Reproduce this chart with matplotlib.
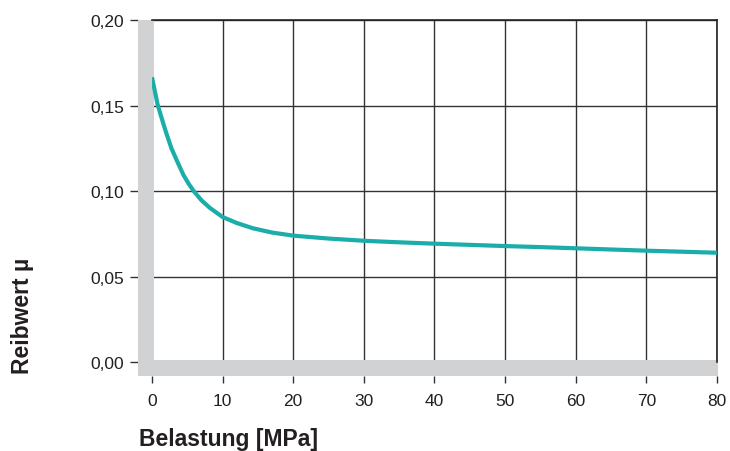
import matplotlib
matplotlib.use("Agg")
import matplotlib.pyplot as plt
from matplotlib.patches import Rectangle

# Werte
belastung = [0, 0.8, 1.5, 2.0, 2.75, 3.5, 4.45, 5.2, 5.9, 7.0, 8.2, 10, 12,
             14.3, 17, 20, 25, 30, 35, 40, 45, 50, 55, 60, 65, 70, 75, 80]
reibwert = [0.1665, 0.1505, 0.1408, 0.1342, 0.1250, 0.1180, 0.1094, 0.1042,
            0.1000, 0.0946, 0.0901, 0.0848, 0.0813, 0.0782, 0.0757, 0.0739,
            0.0722, 0.0709, 0.0700, 0.0692, 0.0685, 0.0678, 0.0672, 0.0665,
            0.0658, 0.0651, 0.0645, 0.0639]
x_ticks = [0, 10, 20, 30, 40, 50, 60, 70, 80]
y_ticks = [0.00, 0.05, 0.10, 0.15, 0.20]
y_labels = ["0,00", "0,05", "0,10", "0,15", "0,20"]

plt.rcParams["font.family"] = ["Liberation Sans", "DejaVu Sans"]

GRAU = "#d1d2d4"
TEXT = "#231f20"

fig = plt.figure(figsize=(7.3, 4.52), dpi=100)
ax = fig.add_axes([0.2082, 0.1969, 0.7740, 0.7566])

ax.plot(belastung, reibwert, color="#1aadaa", lw=3.0, solid_capstyle="butt",
        solid_joinstyle="round", zorder=3)

ax.set_xlim(0, 80)
ax.set_ylim(0, 0.20)
ax.set_xticks(x_ticks)
ax.set_yticks(y_ticks)
ax.set_yticklabels(y_labels)

ax.grid(True, color="#333333", lw=1.0)
ax.set_axisbelow(True)

for s in ["top", "right"]:
    ax.spines[s].set_color("#222222")
    ax.spines[s].set_linewidth(1.2)
for s in ["left", "bottom"]:
    ax.spines[s].set_position(("outward", 10))
    ax.spines[s].set_visible(False)

ax.tick_params(axis="y", length=6, width=1, color="#333333", pad=4,
               labelsize=12.5, labelcolor=TEXT)
ax.tick_params(axis="x", length=5, width=1, color="#333333", pad=7,
               labelsize=12.5, labelcolor=TEXT)

# graue Balken an linker und unterer Achse
ax.add_patch(Rectangle((-0.0248, -0.041), 0.0283, 1.041,
                       transform=ax.transAxes, color=GRAU, clip_on=False,
                       zorder=2, lw=0))
ax.add_patch(Rectangle((-0.0248, -0.041), 1.0266, 0.0468,
                       transform=ax.transAxes, color=GRAU, clip_on=False,
                       zorder=2, lw=0))

fig.text(139 / 730, 1 - 440 / 452, "Belastung [MPa]", fontsize=16.5,
         fontweight="bold", color=TEXT, ha="left", va="center")
fig.text(22 / 730, 1 - 316 / 452, "Reibwert µ", fontsize=16.5,
         fontweight="bold", color=TEXT, ha="center", va="center",
         rotation=90)

fig.savefig("out.png", dpi=100)
